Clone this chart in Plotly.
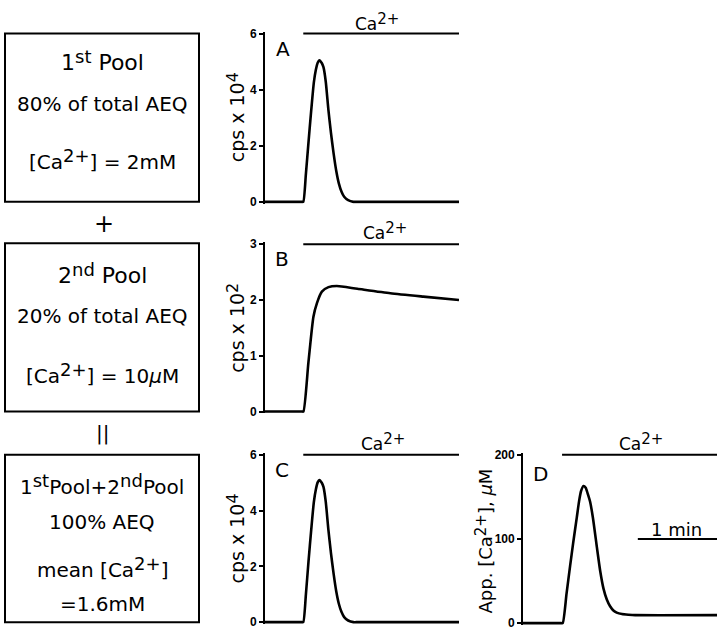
import plotly.graph_objects as go

W, H = 720, 637

# ---------------- data (time in s) ----------------
time_A = [0, 28, 29, 31, 33, 35, 37, 38.5, 40, 41.2, 43, 44.3, 46, 48, 50, 52, 54, 56, 58, 60, 63, 67, 69, 147]
cps_A = [0, 0, 0, 1.0, 2.15, 3.25, 4.25, 4.7, 4.97, 5.05, 4.95, 4.8, 4.3, 3.3, 2.45, 1.72, 1.1, 0.65, 0.36, 0.18, 0.06, 0, 0, 0]

time_B = [0, 28, 29.1, 32.9, 36.7, 39.3, 43.1, 48.1, 54.4, 70, 95, 120, 147]
cps_B = [0, 0, 0, 0.88, 1.7, 1.94, 2.15, 2.23, 2.25, 2.2, 2.12, 2.06, 2.0]

time_C = [0, 28, 29, 31, 33, 35, 37, 38.5, 40, 41.2, 43, 44.3, 46, 48, 50, 52, 54, 56, 58, 60, 63, 67, 69, 147]
cps_C = [0, 0, 0, 1.0, 2.2, 3.3, 4.3, 4.75, 5.02, 5.1, 5.0, 4.85, 4.33, 3.33, 2.47, 1.73, 1.1, 0.65, 0.36, 0.18, 0.06, 0, 0, 0]

time_D = [0, 29, 30.1, 33, 35.7, 38, 40.8, 42.5, 44, 45.8, 47.5, 49, 50.9, 53, 56, 58.5, 61, 63.5, 66, 68.5, 71, 75, 80, 85, 147]
conc_D = [0, 0, 0, 35, 68, 95, 126, 145, 157, 163, 161, 154, 144, 125, 90, 62, 41, 28, 20, 15, 12.5, 10.8, 10, 9.5, 9.5]

ca_bar_A = [29, 147]
ca_bar_B = [29, 147]
ca_bar_C = [29, 147]
ca_bar_D = [29.6, 147]
scale_bar_D = [87, 147]   # 1 min
scale_bar_level = 100

ticks_A = [0, 2, 4, 6]
ticks_B = [0, 1, 2, 3]
ticks_C = [0, 2, 4, 6]
ticks_D = [0, 100, 200]

# ---------------- layout helpers ----------------
BLACK = "#000000"
FONT = "DejaVu Sans"
PAD = 2


def px(x):
    return x / W


def py(y):
    return 1 - y / H


panels = [
    dict(t=time_A, v=cps_A, bar=ca_bar_A, ticks=ticks_A, left=265, right=459, top=29, bottom=200),
    dict(t=time_B, v=cps_B, bar=ca_bar_B, ticks=ticks_B, left=265, right=459, top=243, bottom=413),
    dict(t=time_C, v=cps_C, bar=ca_bar_C, ticks=ticks_C, left=265, right=459, top=457, bottom=627),
    dict(t=time_D, v=conc_D, bar=ca_bar_D, ticks=ticks_D, left=523, right=717, top=457, bottom=628),
]

fig = go.Figure()
layout = dict(
    width=W, height=H, margin=dict(l=0, r=0, t=0, b=0),
    paper_bgcolor="white", plot_bgcolor="white", showlegend=False,
)

for i, p in enumerate(panels, start=1):
    xa = "x" if i == 1 else f"x{i}"
    ya = "y" if i == 1 else f"y{i}"
    ymax = p["ticks"][-1]
    ppu = (p["bottom"] - p["top"]) / ymax
    padu = PAD / ppu
    fig.add_trace(go.Scatter(x=p["t"], y=p["v"], mode="lines", xaxis=xa, yaxis=ya,
                             line=dict(color=BLACK, width=2.6, shape="spline", smoothing=0.6),
                             hoverinfo="skip"))
    fig.add_trace(go.Scatter(x=p["bar"], y=[ymax, ymax], mode="lines", xaxis=xa, yaxis=ya,
                             line=dict(color=BLACK, width=2), hoverinfo="skip"))
    layout["xaxis" if i == 1 else f"xaxis{i}"] = dict(
        domain=[px(p["left"]), px(p["right"])], range=[0, 147], anchor=ya,
        visible=False, fixedrange=True)
    layout["yaxis" if i == 1 else f"yaxis{i}"] = dict(
        domain=[py(p["bottom"] + PAD), py(p["top"] - PAD)], range=[-padu, ymax + padu],
        anchor=xa, showline=True, linecolor=BLACK, linewidth=1.8, showgrid=False,
        zeroline=False, ticks="outside", ticklen=4, tickwidth=1.6, tickcolor=BLACK,
        tickvals=p["ticks"], ticktext=[str(v) for v in p["ticks"]],
        tickfont=dict(family="Liberation Sans", size=12, color=BLACK, weight="bold"),
        fixedrange=True)

# 1 min scale bar in panel D
fig.add_trace(go.Scatter(x=scale_bar_D, y=[scale_bar_level, scale_bar_level], mode="lines",
                         xaxis="x4", yaxis="y4", line=dict(color=BLACK, width=2),
                         hoverinfo="skip"))

fig.update_layout(**layout)

SUP = "<span style='font-size:{s}px;baseline-shift:40%'>{t}</span>"


def sup(t, s):
    return SUP.format(t=t, s=s)


annotations = []


def ann(text, x, y, size, angle=0):
    annotations.append(dict(text=text, x=px(x), y=py(y), xref="paper", yref="paper",
                            xanchor="center", yanchor="middle", showarrow=False,
                            textangle=angle, font=dict(family=FONT, size=size, color=BLACK)))


# left boxes
boxes = [(5, 29, 199, 200), (5, 242, 199, 413), (5, 457, 199, 627)]
shapes = []
for (x0, y0, x1, y1) in boxes:
    shapes.append(dict(type="rect", xref="paper", yref="paper", x0=px(x0), x1=px(x1),
                       y0=py(y1), y1=py(y0), line=dict(color=BLACK, width=2)))
fig.update_layout(shapes=shapes)

ann("1" + sup("st", 18) + " Pool", 102, 56, 22)
ann("80% of total AEQ", 102, 101, 20)
ann("[Ca" + sup("2+", 18) + "] = 2mM", 102, 157, 20)
ann("+", 104, 222, 24)
ann("2" + sup("nd", 18) + " Pool", 102, 273, 22)
ann("20% of total AEQ", 102, 316, 20)
ann("[Ca" + sup("2+", 18) + "] = 10<i>μ</i>M", 102, 374, 20)
ann("||", 102, 435, 20)
ann("1" + sup("st", 18) + "Pool+2" + sup("nd", 18) + "Pool", 102, 487, 20)
ann("100% AEQ", 102, 525, 20)
ann("mean [Ca" + sup("2+", 18) + "]", 102, 571, 20)
ann("=1.6mM", 102, 609, 20)

# panel letters
ann("A", 283, 45, 20)
ann("B", 282, 258, 20)
ann("C", 282, 472, 20)
ann("D", 540, 476, 20)

# Ca2+ labels
ann("Ca" + sup("2+", 15), 377, 17, 17)
ann("Ca" + sup("2+", 15), 385, 230, 17)
ann("Ca" + sup("2+", 15), 383, 444, 17)
ann("Ca" + sup("2+", 15), 641, 444, 17)

# 1 min
ann("1 min", 676, 533, 18)

# y titles
ann("cps x 10" + sup("4", 16), 235, 114, 19, -90)
ann("cps x 10" + sup("2", 16), 235, 328, 19, -90)
ann("cps x 10" + sup("4", 16), 235, 542, 19, -90)
ann("App. [Ca" + sup("2+", 15) + "], <i>μ</i>M", 484, 545, 18, -90)

fig.update_layout(annotations=annotations)

fig.write_html("out.html", config={"displayModeBar": False},
               post_script="document.body.style.margin='0px';document.body.style.padding='0px';")
